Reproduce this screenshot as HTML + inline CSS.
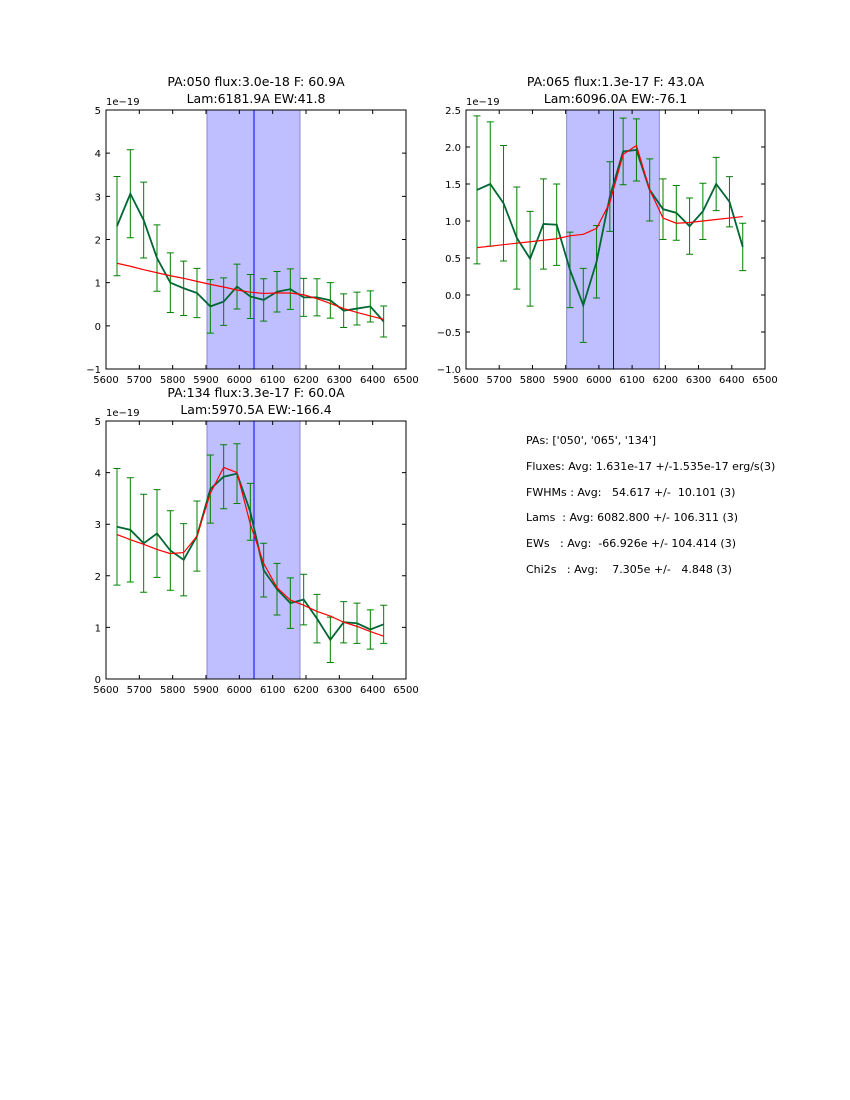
<!DOCTYPE html>
<html><head><meta charset="utf-8"><style>
body{margin:0;background:#fff;width:850px;height:1100px;overflow:hidden;font-family:"DejaVu Sans","Liberation Sans",sans-serif;}
svg{position:absolute;left:0;top:0;}
.info{position:absolute;left:526px;font-size:11px;white-space:pre;color:#000;}
</style></head><body>
<svg id="chart" width="850" height="1100"></svg>
<div class="info" style="top:434px">PAs: ['050', '065', '134']</div>
<div class="info" style="top:460px">Fluxes: Avg: 1.631e-17 +/-1.535e-17 erg/s(3)</div>
<div class="info" style="top:486px">FWHMs : Avg:   54.617 +/-  10.101 (3)</div>
<div class="info" style="top:511px">Lams  : Avg: 6082.800 +/- 106.311 (3)</div>
<div class="info" style="top:537px">EWs   : Avg:  -66.926e +/- 104.414 (3)</div>
<div class="info" style="top:563px">Chi2s   : Avg:    7.305e +/-   4.848 (3)</div>
<script>
const wavelengths=[5633,5673,5713,5753,5793,5833,5873,5913,5953,5993,6033,6073,6113,6153,6193,6233,6273,6313,6353,6393,6433];
const xTicks=[5600,5700,5800,5900,6000,6100,6200,6300,6400,6500];
const flux1=[2.31,3.06,2.45,1.57,1.0,0.87,0.76,0.45,0.56,0.91,0.68,0.6,0.79,0.85,0.66,0.66,0.59,0.35,0.4,0.45,0.1];
const err1=[1.15,1.02,0.88,0.77,0.69,0.63,0.57,0.62,0.55,0.52,0.51,0.49,0.47,0.47,0.44,0.43,0.41,0.39,0.38,0.36,0.36];
const model1=[1.45,1.38,1.3,1.23,1.16,1.1,1.03,0.96,0.9,0.83,0.78,0.75,0.76,0.76,0.72,0.63,0.52,0.4,0.31,0.23,0.15];
const yTicks1=[-1,0,1,2,3,4,5];
const flux2=[1.42,1.5,1.24,0.77,0.49,0.96,0.95,0.34,-0.14,0.45,1.33,1.94,1.96,1.42,1.16,1.11,0.93,1.13,1.5,1.26,0.65];
const err2=[1.0,0.84,0.78,0.69,0.64,0.61,0.55,0.51,0.5,0.49,0.47,0.45,0.42,0.42,0.41,0.37,0.38,0.38,0.36,0.34,0.32];
const model2=[0.64,0.66,0.68,0.7,0.72,0.74,0.76,0.8,0.82,0.9,1.25,1.9,2.02,1.42,1.04,0.97,0.98,1.0,1.02,1.04,1.06];
const yTicks2=[-1.0,-0.5,0.0,0.5,1.0,1.5,2.0,2.5];
const flux3=[2.95,2.89,2.63,2.82,2.49,2.31,2.77,3.68,3.92,3.98,3.24,2.11,1.74,1.47,1.54,1.17,0.76,1.1,1.08,0.96,1.06];
const err3=[1.13,1.01,0.95,0.85,0.77,0.7,0.68,0.66,0.62,0.58,0.55,0.52,0.5,0.49,0.49,0.47,0.44,0.4,0.39,0.38,0.37];
const model3=[2.8,2.7,2.61,2.51,2.43,2.45,2.77,3.6,4.1,4.0,3.0,2.24,1.77,1.53,1.43,1.31,1.22,1.1,1.02,0.92,0.83];
const yTicks3=[0,1,2,3,4,5];
const bandLo=5903,bandHi=6182,lineCenter=6044;

const svg=document.getElementById('chart');
const NS='http://www.w3.org/2000/svg';
function mk(tag,attrs,parent){const e=document.createElementNS(NS,tag);for(const k in attrs)e.setAttribute(k,attrs[k]);(parent||svg).appendChild(e);return e;}

function panel(cfg){
  const {L,T,W,H,ymin,ymax,yTicks,dec,flux,err,model,t1,t2,name}=cfg;
  const g=mk('g',{});
  
  
  const X=v=>L+(v-5600)/900*W;
  const Y=v=>T+(ymax-v)/(ymax-ymin)*H;
  const band=mk('rect',{x:X(bandLo),y:T,width:X(bandHi)-X(bandLo),height:H,fill:'#bfbfff',stroke:'#8888cc','stroke-width':1},g);
  
  
  const cl=mk('line',{x1:X(lineCenter),x2:X(lineCenter),y1:T,y2:T+H,stroke:'#0000ff','stroke-width':1},g);
  
  
  // error bars
  wavelengths.forEach((w,i)=>{
    const x=X(w),y1=Y(flux[i]+err[i]),y2=Y(flux[i]-err[i]);
    const eb=mk('path',{d:`M${x},${y1}V${y2}M${x-3.5},${y1}H${x+3.5}M${x-3.5},${y2}H${x+3.5}`,stroke:'#008000','stroke-width':1,fill:'none'},g);
    
    
  });
  const dp=mk('polyline',{points:wavelengths.map((w,i)=>X(w)+','+Y(flux[i])).join(' '),fill:'none',stroke:'#006633','stroke-width':1.8},g);
  
  
  const mp=mk('polyline',{points:wavelengths.map((w,i)=>X(w)+','+Y(model[i])).join(' '),fill:'none',stroke:'#ff0000','stroke-width':1.2},g);
  
  
  const fr=mk('rect',{x:L,y:T,width:W,height:H,fill:'none',stroke:'#000','stroke-width':1},g);
  
  
  xTicks.forEach(v=>{
    const x=X(v);
    mk('path',{d:`M${x},${T+H}v-4M${x},${T}v4`,stroke:'#000'},g);
    const t=mk('text',{x:x,y:T+H+14,'text-anchor':'middle','font-size':10},g);t.textContent=v;
    
    
  });
  yTicks.forEach(v=>{
    const y=Y(v);
    mk('path',{d:`M${L},${y}h4M${L+W},${y}h-4`,stroke:'#000'},g);
    const t=mk('text',{x:L-5,y:y+4,'text-anchor':'end','font-size':10},g);t.textContent=(v<0?'\u2212':'')+Math.abs(v).toFixed(dec);
    
    
  });
  const off=mk('text',{x:L,y:T-5,'font-size':10},g);off.textContent='1e\u221219';
  
  
  const ta=mk('text',{x:L+W/2,y:T-24,'text-anchor':'middle','font-size':12.5},g);ta.textContent=t1;
  
  
  const tb=mk('text',{x:L+W/2,y:T-7,'text-anchor':'middle','font-size':12.5},g);tb.textContent=t2;
  
  
}
panel({L:106,T:110,W:300,H:259,ymin:-1,ymax:5,yTicks:yTicks1,dec:0,flux:flux1,err:err1,model:model1,t1:'PA:050 flux:3.0e-18 F: 60.9A',t2:'Lam:6181.9A EW:41.8',name:'panel-pa050'});
panel({L:466,T:110,W:299,H:259,ymin:-1,ymax:2.5,yTicks:yTicks2,dec:1,flux:flux2,err:err2,model:model2,t1:'PA:065 flux:1.3e-17 F: 43.0A',t2:'Lam:6096.0A EW:-76.1',name:'panel-pa065'});
panel({L:106,T:421,W:300,H:258,ymin:0,ymax:5,yTicks:yTicks3,dec:0,flux:flux3,err:err3,model:model3,t1:'PA:134 flux:3.3e-17 F: 60.0A',t2:'Lam:5970.5A EW:-166.4',name:'panel-pa134'});
</script>
</body></html>
